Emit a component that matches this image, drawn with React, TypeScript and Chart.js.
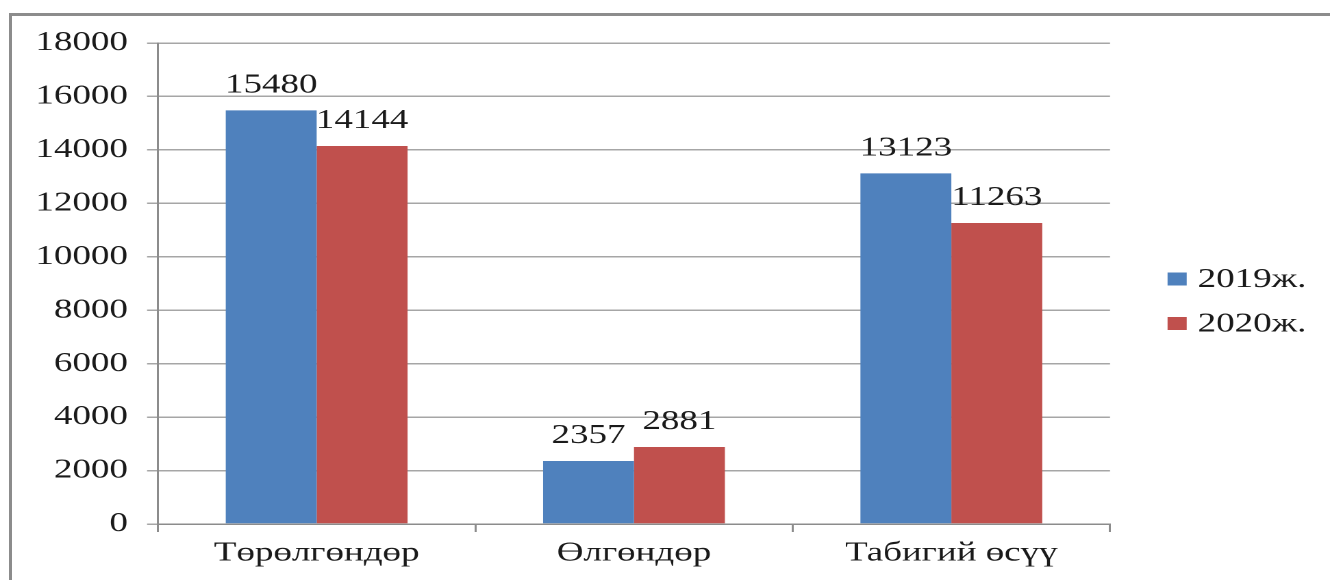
import React, { useEffect, useRef } from 'react';
import { Chart, registerables } from 'chart.js';

Chart.register(...registerables);

// ---- data ----
const categories = ['Төрөлгөндөр', 'Өлгөндөр', 'Табигий өсүү'];
const seriesLabels = ['2019ж.', '2020ж.'];
const values2019 = [15480, 2357, 13123];
const values2020 = [14144, 2881, 11263];
const yMin = 0;
const yMax = 18000;
const yStep = 2000;

// ---- styling ----
const CW = 971;
const CH = 580;
const S = 1330 / CW; // horizontal stretch of the original picture
const FONT_FAMILY = '"Liberation Serif", "Times New Roman", serif';
const FONT_SIZE = 27;
const TEXT = '#1a1a1a';
const COLORS = ['#4F81BD', '#C0504D'];

const valueLabels = {
  id: 'valueLabels',
  afterDatasetsDraw(chart: any) {
    const { ctx } = chart;
    ctx.save();
    ctx.font = `${FONT_SIZE}px ${FONT_FAMILY}`;
    ctx.fillStyle = TEXT;
    ctx.textAlign = 'center';
    ctx.textBaseline = 'alphabetic';
    chart.data.datasets.forEach((ds: any, i: number) => {
      const meta = chart.getDatasetMeta(i);
      meta.data.forEach((bar: any, j: number) => {
        const { x, y } = bar.getProps(['x', 'y'], true);
        ctx.fillText(String(ds.data[j]), x, y - 18);
      });
    });
    ctx.restore();
  },
};

const sideLegend = {
  id: 'sideLegend',
  afterDraw(chart: any) {
    const { ctx, chartArea } = chart;
    ctx.save();
    ctx.font = `${FONT_SIZE}px ${FONT_FAMILY}`;
    ctx.textAlign = 'left';
    ctx.textBaseline = 'middle';
    const bx = chartArea.right + 42;
    chart.data.datasets.forEach((ds: any, i: number) => {
      const cy = 279 + i * 44.5;
      ctx.fillStyle = ds.backgroundColor;
      ctx.fillRect(bx, cy - 6.5, 14, 13);
      ctx.fillStyle = TEXT;
      ctx.fillText(ds.label, bx + 22, cy + 1);
    });
    ctx.restore();
  },
};

export default function App() {
  const ref = useRef<HTMLCanvasElement | null>(null);

  useEffect(() => {
    if (!ref.current) return;
    const font = { family: FONT_FAMILY, size: FONT_SIZE };
    const chart = new Chart(ref.current, {
      type: 'bar',
      data: {
        labels: categories,
        datasets: [
          { label: seriesLabels[0], data: values2019, backgroundColor: COLORS[0] },
          { label: seriesLabels[1], data: values2020, backgroundColor: COLORS[1] },
        ],
      },
      options: {
        responsive: false,
        animation: false,
        devicePixelRatio: 2,
        layout: { padding: { top: 43, right: CW - 1110 / S, bottom: 0, left: 0 } },
        datasets: { bar: { categoryPercentage: 0.573, barPercentage: 1 } },
        plugins: { legend: { display: false }, tooltip: { enabled: false } },
        scales: {
          x: {
            grid: { display: true, drawOnChartArea: false, drawTicks: true, tickLength: 8, color: '#8c8c8c', offset: true, lineWidth: 1.5 },
            border: { display: true, color: '#8c8c8c', width: 1.5 },
            ticks: { font, color: TEXT, padding: 5, maxRotation: 0, autoSkip: false },
            afterFit: (s: any) => { s.height = 56; },
          },
          y: {
            min: yMin,
            max: yMax,
            ticks: { stepSize: yStep, font, color: TEXT, padding: 14, callback: (v: any) => String(v) },
            grid: { color: '#a6a6a6', lineWidth: 1.5, tickLength: 8 },
            border: { display: true, color: '#8c8c8c', width: 1.5 },
            afterFit: (s: any) => { s.width = 158 / S; },
          },
        },
      },
      plugins: [valueLabels, sideLegend],
    } as any);
    return () => chart.destroy();
  }, []);

  return (
    <div style={{ position: 'fixed', left: 0, top: 0, width: 1330, height: 580, overflow: 'hidden', background: '#fff' }}>
      <div style={{ position: 'absolute', left: 9, top: 13, width: 1400, height: 700, borderLeft: '3px solid #8c8c8c', borderTop: '3px solid #8c8c8c' }} />
      <div style={{ position: 'absolute', left: 0, top: 0, width: CW, height: CH, transform: `scaleX(${S})`, transformOrigin: '0 0' }}>
        <canvas ref={ref} width={CW} height={CH} style={{ width: CW, height: CH, display: 'block' }} />
      </div>
    </div>
  );
}
